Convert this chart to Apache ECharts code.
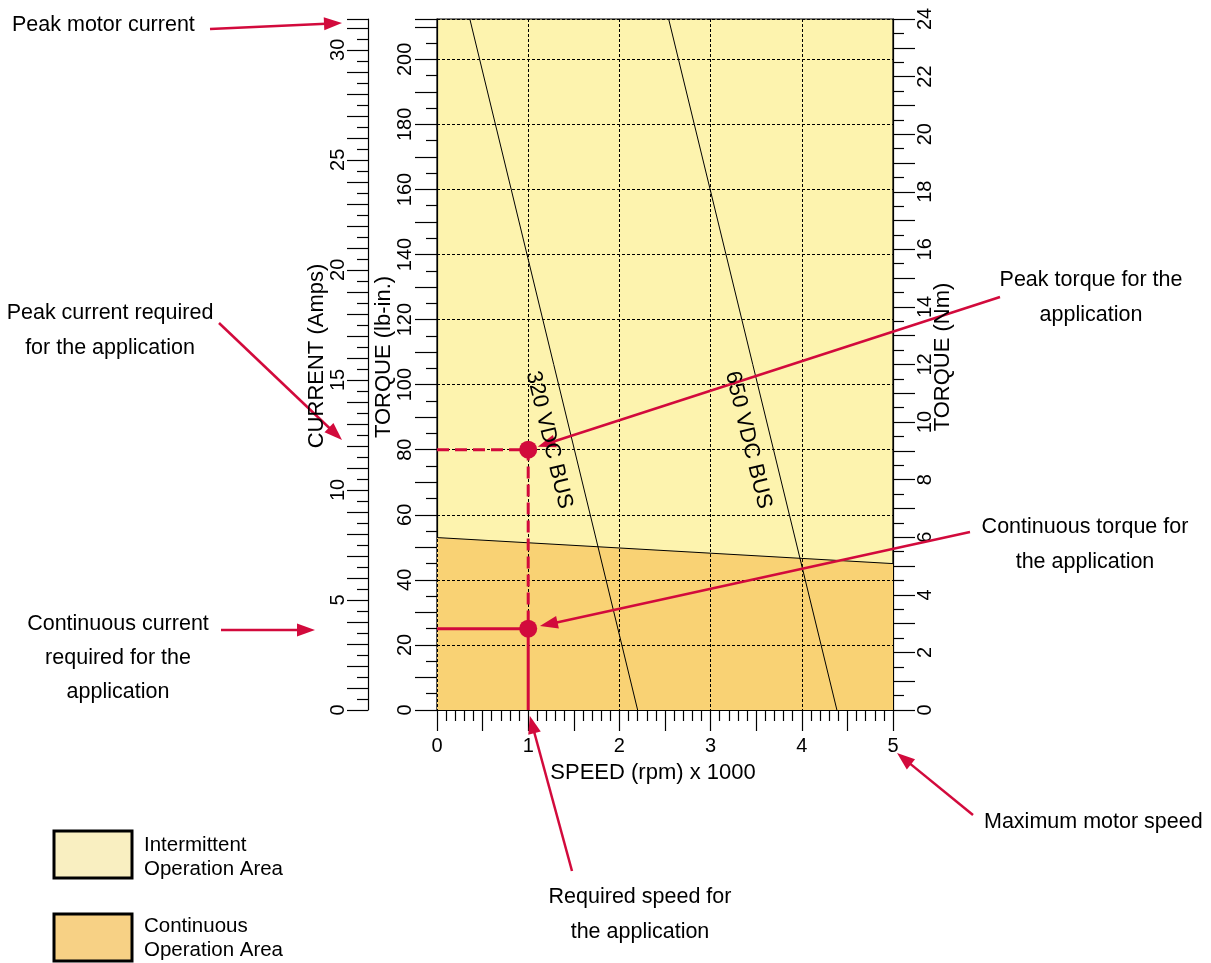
<!DOCTYPE html>
<html><head><meta charset="utf-8">
<script src="https://cdn.jsdelivr.net/npm/echarts@6/dist/echarts.min.js"></script>
<style>html,body{margin:0;padding:0;background:#fff}#c{width:1211px;height:963px}</style>
</head><body><div id="c"></div>
<script>
// ---- data ----
const speedRange = [0, 5];              // rpm x 1000
const torqueLbRange = [0, 212.4];       // lb-in (= 24 Nm)
const torqueNmRange = [0, 24];          // Nm
const currentRange = [0, 31.4];         // Amps
const speedLabels = [0, 1, 2, 3, 4, 5];
const torqueLbLabels = [0, 20, 40, 60, 80, 100, 120, 140, 160, 180, 200];
const torqueNmLabels = [0, 2, 4, 6, 8, 10, 12, 14, 16, 18, 20, 22, 24];
const currentLabels = [0, 5, 10, 15, 20, 25, 30];
const bus320 = [[0.36, 212.4], [2.2, 0]];
const bus650 = [[2.54, 212.4], [4.385, 0]];
const continuousLimit = [[0, 53], [5, 45]];
const peakPath = [[0, 80], [1, 80], [1, 25]];
const contPath = [[0, 25], [1, 25], [1, 0]];
const appPoints = [[1, 80], [1, 25]];
const busLabelTorque = 83;

const RED = '#D20A3C';
const FONT = '"Liberation Sans", Arial, sans-serif';
const chart = echarts.init(document.getElementById('c'), null, {renderer: 'canvas'});

const tickStyle = {color: '#000', width: 1.2};
const lblBase = {color: '#000', fontFamily: FONT, fontSize: 20};

chart.setOption({
  animation: false,
  backgroundColor: '#fff',
  grid: {left: 437, top: 19, width: 456, height: 691, show: true,
         backgroundColor: '#FDF3AE', borderColor: '#000', borderWidth: 1.2,
         containLabel: false, outerBoundsMode: 'none'},
  xAxis: [
    {type: 'value', min: speedRange[0], max: speedRange[1], interval: 0.5,
     axisLine: {show: true, onZero: false, lineStyle: tickStyle},
     axisTick: {show: true, length: 21, lineStyle: tickStyle},
     minorTick: {show: true, splitNumber: 5, length: 11, lineStyle: tickStyle},
     axisLabel: Object.assign({margin: 26, hideOverlap: false, showMinLabel: true, showMaxLabel: true,
       formatter: v => speedLabels.includes(v) ? String(v) : ''}, lblBase),
     splitLine: {show: false}},
    {type: 'value', min: speedRange[0], max: speedRange[1], interval: 1, z: 3,
     axisLine: {show: false}, axisTick: {show: false}, axisLabel: {show: false},
     splitLine: {show: true, lineStyle: {color: '#000', width: 1, type: [3, 2]}}}
  ],
  yAxis: [
    {type: 'value', position: 'left', min: torqueLbRange[0], max: torqueLbRange[1], interval: 10,
     axisLine: {show: true, onZero: false, lineStyle: tickStyle},
     axisTick: {show: true, length: 22, lineStyle: tickStyle},
     minorTick: {show: true, splitNumber: 2, length: 11, lineStyle: tickStyle},
     axisLabel: Object.assign({margin: 22, rotate: 90, hideOverlap: false, showMaxLabel: false,
       formatter: v => torqueLbLabels.includes(v) ? String(v) : ''}, lblBase),
     splitLine: {show: false}},
    {type: 'value', position: 'right', min: torqueNmRange[0], max: torqueNmRange[1], interval: 1,
     axisLine: {show: true, onZero: false, lineStyle: tickStyle},
     axisTick: {show: true, length: 22, lineStyle: tickStyle},
     minorTick: {show: true, splitNumber: 2, length: 11, lineStyle: tickStyle},
     axisLabel: Object.assign({margin: 22, rotate: 90, hideOverlap: false, showMaxLabel: true,
       formatter: v => torqueNmLabels.includes(v) ? String(v) : ''}, lblBase),
     splitLine: {show: false}},
    {type: 'value', position: 'left', min: torqueLbRange[0], max: torqueLbRange[1], interval: 20, z: 3,
     axisLine: {show: false}, axisTick: {show: false}, axisLabel: {show: false},
     splitLine: {show: true, lineStyle: {color: '#000', width: 1, type: [3, 2]}}},
    {type: 'value', position: 'left', offset: 69, min: currentRange[0], max: currentRange[1], interval: 1,
     axisLine: {show: true, onZero: false, lineStyle: tickStyle},
     axisTick: {show: true, length: 21, lineStyle: tickStyle},
     minorTick: {show: true, splitNumber: 2, length: 11, lineStyle: tickStyle},
     axisLabel: Object.assign({margin: 20, rotate: 90, hideOverlap: false, showMaxLabel: false,
       formatter: v => currentLabels.includes(v) ? String(v) : ''}, lblBase),
     splitLine: {show: false}}
  ],
  series: [
    {type: 'line', data: continuousLimit, xAxisIndex: 0, yAxisIndex: 0, symbol: 'none', z: 2,
     lineStyle: {color: '#000', width: 1}, areaStyle: {color: '#F9D274', opacity: 1}},
    {type: 'line', data: bus320, xAxisIndex: 0, yAxisIndex: 0, symbol: 'none', z: 4,
     lineStyle: {color: '#000', width: 1}},
    {type: 'line', data: bus650, xAxisIndex: 0, yAxisIndex: 0, symbol: 'none', z: 4,
     lineStyle: {color: '#000', width: 1}},
    {type: 'line', data: peakPath, xAxisIndex: 0, yAxisIndex: 0, symbol: 'none', z: 10,
     lineStyle: {color: RED, width: 3, type: [12, 6]}},
    {type: 'line', data: contPath, xAxisIndex: 0, yAxisIndex: 0, symbol: 'none', z: 10,
     lineStyle: {color: RED, width: 3}},
    {type: 'scatter', data: appPoints, xAxisIndex: 0, yAxisIndex: 0, symbol: 'circle', symbolSize: 18, z: 11,
     itemStyle: {color: RED, opacity: 1}}
  ]
});

// ---- annotations ----
const px = p => chart.convertToPixel({seriesIndex: 1}, p);
const g = [];
const ANN = '21.5px ' + FONT;
function text(str, x, y, opts) {
  g.push({type: 'text', x: x, y: y, z: 100, rotation: (opts && opts.rot) || 0,
    style: Object.assign({text: str, fill: '#000', font: ANN, align: 'center',
      verticalAlign: 'middle', lineHeight: 35}, (opts && opts.style) || {})});
}
function arrow(from, to) {
  const dx = to[0] - from[0], dy = to[1] - from[1];
  const L = Math.hypot(dx, dy), ux = dx / L, uy = dy / L;
  const hl = 18, hw = 6.5;
  const bx = to[0] - ux * hl, by = to[1] - uy * hl;
  g.push({type: 'line', z: 90, shape: {x1: from[0], y1: from[1], x2: bx + ux * 2, y2: by + uy * 2},
    style: {stroke: RED, lineWidth: 2.5}});
  g.push({type: 'polygon', z: 90, shape: {points: [[to[0], to[1]],
    [bx - uy * hw, by + ux * hw], [bx + uy * hw, by - ux * hw]]}, style: {fill: RED}});
}
function towards(pt, from, gap) {
  const dx = from[0] - pt[0], dy = from[1] - pt[1], L = Math.hypot(dx, dy);
  return [pt[0] + dx / L * gap, pt[1] + dy / L * gap];
}

// axis names
const NAME = '22px ' + FONT;
text('CURRENT (Amps)', 317, 356, {rot: Math.PI / 2, style: {font: NAME}});
text('TORQUE (lb-in.)', 384, 357, {rot: Math.PI / 2, style: {font: NAME}});
text('TORQUE (Nm)', 943, 357, {rot: Math.PI / 2, style: {font: NAME}});
text('SPEED (rpm) x 1000', 653, 773, {style: {font: NAME}});

// bus labels
[[bus320, '320 VDC BUS'], [bus650, '650 VDC BUS']].forEach(([ln, lab]) => {
  const a = px(ln[0]), b = px(ln[1]);
  const t = (ln[0][1] - busLabelTorque) / (ln[0][1] - ln[1][1]);
  const p = px([ln[0][0] + (ln[1][0] - ln[0][0]) * t, busLabelTorque]);
  const ang = Math.atan2(b[1] - a[1], b[0] - a[0]);
  text(lab, p[0] - 23, p[1], {rot: -ang, style: {font: '22px ' + FONT}});
});

// callouts
text('Peak motor current', 12, 25, {style: {align: 'left'}});
arrow([210, 29], [342, 23]);
text('Peak current required\nfor the application', 110, 331);
arrow([219, 323], [342, 440]);
text('Continuous current\nrequired for the\napplication', 118, 658, {style: {lineHeight: 34}});
arrow([221, 630], [315, 630]);
const pk = px(appPoints[0]), ct = px(appPoints[1]), sp = px([1, 0]), mx = px([5, 0]);
text('Peak torque for the\napplication', 1091, 298);
arrow([1000, 297], towards(pk, [1000, 297], 10));
text('Continuous torque for\nthe application', 1085, 545);
arrow([970, 532], towards(ct, [970, 532], 12));
text('Maximum motor speed', 984, 822, {style: {align: 'left'}});
arrow([973, 815], [mx[0] + 4, mx[1] + 43]);
text('Required speed for\nthe application', 640, 915);
arrow([572, 871], towards(sp, [572, 871], 6));

// legend
g.push({type: 'rect', z: 100, shape: {x: 54, y: 831, width: 78, height: 47},
  style: {fill: '#F9EFC1', stroke: '#000', lineWidth: 3}});
g.push({type: 'rect', z: 100, shape: {x: 54, y: 914, width: 78, height: 47},
  style: {fill: '#F7D185', stroke: '#000', lineWidth: 3}});
text('Intermittent\nOperation Area', 144, 857, {style: {align: 'left', lineHeight: 24, font: '20.5px ' + FONT}});
text('Continuous\nOperation Area', 144, 938, {style: {align: 'left', lineHeight: 24, font: '20.5px ' + FONT}});

chart.setOption({graphic: g});
</script></body></html>
